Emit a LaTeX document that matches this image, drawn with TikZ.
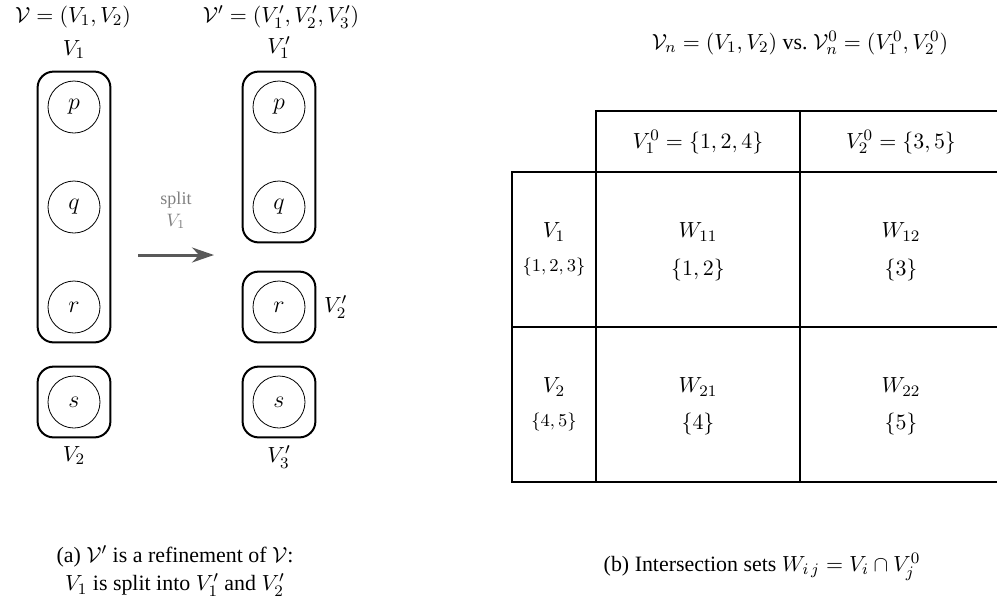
\documentclass[11pt,tikz,border=0pt]{standalone}
\usepackage[no-math]{fontspec}
\setmainfont{Liberation Serif}
\usetikzlibrary{positioning}
\usetikzlibrary{fit, arrows.meta}

\begin{document}
\begin{tikzpicture}[x=0.5pt,y=-0.5pt,
  elem/.style={circle,draw,thin,minimum size=26pt,inner sep=0pt,font=\large},
  grp/.style={draw,line width=1pt,rounded corners=8pt,inner xsep=5pt,inner ysep=4.5pt},
  cellbox/.style={draw,line width=1pt},
  small set/.style={font=\footnotesize}]
\useasboundingbox (0,0) rectangle (997,607);
\clip (0,0) rectangle (997,607);

\node (titleV) at (73,17) {$\mathcal{V}=(V_1,V_2)$};
\node (titleVp) at (281,17) {$\mathcal{V}'=(V_1',V_2',V_3')$};

\node[elem] (p) at (74,107) {$p$};
\node[elem] (q) at (74,207) {$q$};
\node[elem] (r) at (74,307) {$r$};
\node[elem] (s) at (74,402) {$s$};
\node[grp,fit=(p)(r)] (V1) {};
\node[grp,fit=(s)] (V2) {};
\node[above=2pt of V1] (V1lbl) {$V_1$};
\node[below=0pt of V2] (V2lbl) {$V_2$};

\node[elem] (pp) at (279,107) {$p$};
\node[elem] (qp) at (279,207) {$q$};
\node[elem] (rp) at (279,307) {$r$};
\node[elem] (sp) at (279,402) {$s$};
\node[grp,fit=(pp)(qp)] (V1p) {};
\node[grp,fit=(rp)] (V2p) {};
\node[grp,fit=(sp)] (V3p) {};
\node[above=2pt of V1p] (V1plbl) {$V_1'$};
\node[right=0pt of V2p] (V2plbl) {$V_2'$};
\node[below=0pt of V3p] (V3plbl) {$V_3'$};

\coordinate (split0) at (138,255);
\coordinate (split1) at (214,255);
\draw[-{Stealth[length=11pt,width=7.5pt]},gray!70!black,line width=1.5pt] (split0) -- (split1);
\node[font=\footnotesize,text=gray,align=center] (splitlbl) at (176,210) {split\\$V_1$};

\node[align=center] (capa) at (175,571) {(a) $\mathcal{V}'$ is a refinement of $\mathcal{V}$:\\[0.5pt]$V_1$ is split into $V_1'$ and $V_2'$};

\node (titleW) at (800,43) {$\mathcal{V}_n=(V_1,V_2)$ vs.\ $\mathcal{V}^0_n=(V^0_1,V^0_2)$};

\draw[cellbox] (596,111) rectangle (800,172);
\draw[cellbox] (800,111) rectangle (1004,172);
\draw[cellbox] (512,172) rectangle (596,327);
\draw[cellbox] (512,327) rectangle (596,482);
\draw[cellbox] (596,172) rectangle (800,327);
\draw[cellbox] (800,172) rectangle (1004,327);
\draw[cellbox] (596,327) rectangle (800,482);
\draw[cellbox] (800,327) rectangle (1004,482);

\node (head1) at (698,142) {$V^0_1=\{1,2,4\}$};
\node (head2) at (901,142) {$V^0_2=\{3,5\}$};

\node (row1) at (554,232) {$V_1$};
\node[small set] (row1set) at (554,267) {$\{1,2,3\}$};
\node (row2) at (554,387) {$V_2$};
\node[small set] (row2set) at (554,422) {$\{4,5\}$};

\node (W11) at (698,232) {$W_{11}$};
\node (W11set) at (698,270) {$\{1,2\}$};
\node (W12) at (901,232) {$W_{12}$};
\node (W12set) at (901,270) {$\{3\}$};
\node (W21) at (698,387) {$W_{21}$};
\node (W21set) at (698,424) {$\{4\}$};
\node (W22) at (901,387) {$W_{22}$};
\node (W22set) at (901,424) {$\{5\}$};

\node (capb) at (762,567) {(b) Intersection sets $W_{i\,j}=V_i\cap V^0_j$};

\end{tikzpicture}
\end{document}
